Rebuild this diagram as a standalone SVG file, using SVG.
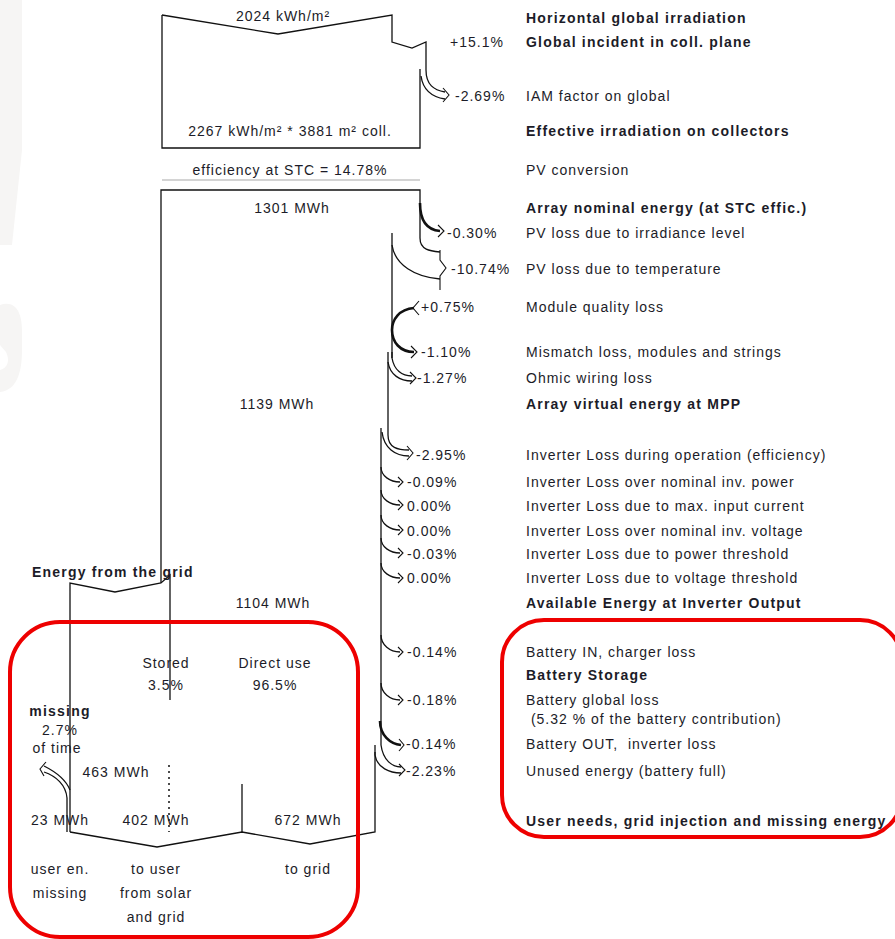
<svg xmlns="http://www.w3.org/2000/svg" width="895" height="939" viewBox="0 0 895 939">
<style>
text{font-family:"Liberation Sans",Arial,sans-serif;font-size:14px;fill:#1c1c28;letter-spacing:1px}
.b{font-weight:bold;letter-spacing:1.2px}
.m{text-anchor:middle}
.ln{fill:none;stroke:#111;stroke-width:1.3}
.tk{fill:none;stroke:#111;stroke-width:2.6}
.hd{fill:none;stroke:#111;stroke-width:1.1}
.red{fill:none;stroke:#ee0000;stroke-width:4}
</style>
<rect width="895" height="939" fill="#fff"/>
<g id="watermark" fill="#f6f5f4">
<path d="M0,0 H22 V150 L12,245 H0 Z"/>
<path d="M0,305 C15,300 22,312 22,330 V350 C22,370 18,390 0,392 V370 C8,368 10,360 6,352 L0,345 Z"/>
</g>
<g id="flows">
<!-- top irradiation box -->
<path class="ln" d="M162,15 L278,34 L392,15 V42 L412,48 L426,42 V70 C426,85 434,90 445,92"/>
<path class="ln" d="M420,69 V148 H162 V15"/>
<path class="ln" d="M421,76 C423,90 432,97 445,99"/>
<path class="hd" d="M443,88 L449,95 L443,102"/>
<line x1="162" y1="180" x2="420" y2="180" stroke="#aaa" stroke-width="1.2"/>
<!-- array box -->
<path class="ln" d="M161,583 V190 H420 V238 C420,250 430,251 440,252"/>
<path class="tk" d="M420,203 C420,222 428,230 440,231"/>
<path class="hd" d="M438,225 L444,231 L438,237"/>
<path class="ln" d="M392,233 V245 C395,265 415,277 440,279"/>
<path class="hd" d="M440,250 V260 L446,268 L440,276 V290"/>
<path class="ln" d="M392,245 V358"/>
<path class="tk" d="M414,308 C399,309 392,320 392,330 C392,342 400,352 414,352"/>
<path class="hd" d="M419,301 L413,308 L419,315"/>
<path class="hd" d="M411,346 L417,352 L411,358"/>
<path class="ln" d="M392,352 V358 C394,370 402,376 412,376"/>
<path class="ln" d="M388,352 V362 C390,375 400,381 412,381"/>
<path class="hd" d="M410,372 L416,378 L410,384"/>
<path class="ln" d="M388,362 V435 C388,448 398,450 409,450"/>
<path class="ln" d="M382,432 C384,448 395,456 409,456"/>
<path class="hd" d="M407,446 L413,453 L407,460"/>
<path class="ln" d="M381,428 V745"/>
<path class="ln" d="M381,467 C381,476 390,482 400,482"/>
<path class="ln" d="M381,490 C381,499 390,505 400,505"/>
<path class="ln" d="M381,515 C381,524 390,530 400,530"/>
<path class="ln" d="M381,538 C381,547 390,553 400,553"/>
<path class="ln" d="M381,563 C381,572 390,578 400,578"/>
<path class="hd" d="M398,477 L403,482 L398,487 M398,500 L403,505 L398,510 M398,525 L403,530 L398,535 M398,548 L403,553 L398,558 M398,573 L403,578 L398,583"/>
<path class="ln" d="M381,635 C381,645 390,652 400,652"/>
<path class="ln" d="M381,683 C381,693 390,700 400,700"/>
<path class="hd" d="M398,647 L403,652 L398,657 M398,695 L403,700 L398,705"/>
<path class="tk" d="M380,721 C380,735 390,744 401,745"/>
<path class="hd" d="M399,739 L404,745 L399,751"/>
<path class="ln" d="M381,745 C383,760 392,767 401,767"/>
<path class="ln" d="M375,745 V755 C377,768 390,773 401,773"/>
<path class="hd" d="M399,764 L405,770 L399,776"/>
<path class="ln" d="M375,752 V832 L310,844 L242,832 L157,847 L70,832"/>
<line class="ln" x1="242" y1="784" x2="242" y2="832"/>
<!-- grid input -->
<path class="ln" d="M70,832 V583 L115,592 L161,583 L170,575 V700"/>
<line x1="169" y1="765" x2="169" y2="832" stroke="#111" stroke-width="1.5" stroke-dasharray="2,4"/>
<path class="ln" d="M67,832 V798 C66,785 56,776 44,772"/>
<path class="ln" d="M70,790 C66,780 56,772 44,766"/>
<path class="hd" d="M46,762 L40,769 L44,776"/>
</g>
<g id="highlights">
<rect class="red" x="10" y="622" width="348" height="315" rx="50"/>
<rect class="red" x="502" y="620" width="400" height="217" rx="42"/>
</g>
<g id="values">
<text class="m" x="283" y="21">2024 kWh/m²</text>
<text class="m" x="290" y="136">2267 kWh/m² * 3881 m² coll.</text>
<text class="m" x="290" y="175">efficiency at STC = 14.78%</text>
<text class="m" x="292" y="213">1301 MWh</text>
<text class="m" x="277" y="409">1139 MWh</text>
<text class="m" x="273" y="608">1104 MWh</text>
<text x="450" y="47">+15.1%</text>
<text x="455" y="101">-2.69%</text>
<text x="447" y="238">-0.30%</text>
<text x="451" y="274">-10.74%</text>
<text x="421" y="312">+0.75%</text>
<text x="421" y="357">-1.10%</text>
<text x="417" y="383">-1.27%</text>
<text x="416" y="460">-2.95%</text>
<text x="407" y="487">-0.09%</text>
<text x="407" y="511">0.00%</text>
<text x="407" y="536">0.00%</text>
<text x="407" y="559">-0.03%</text>
<text x="407" y="583">0.00%</text>
<text x="407" y="657">-0.14%</text>
<text x="407" y="705">-0.18%</text>
<text x="406" y="749">-0.14%</text>
<text x="406" y="776">-2.23%</text>
</g>
<g id="bottom-labels">
<text class="b" x="32" y="577">Energy from the grid</text>
<text class="m" x="166" y="668">Stored</text>
<text class="m" x="166" y="690">3.5%</text>
<text class="m" x="275" y="668">Direct use</text>
<text class="m" x="275" y="690">96.5%</text>
<text class="b m" x="60" y="716">missing</text>
<text class="m" x="60" y="735">2.7%</text>
<text class="m" x="57" y="753">of time</text>
<text class="m" x="116" y="777">463 MWh</text>
<text class="m" x="60" y="825">23 MWh</text>
<text class="m" x="156" y="825">402 MWh</text>
<text class="m" x="308" y="825">672 MWh</text>
<text class="m" x="60" y="874">user en.</text>
<text class="m" x="60" y="898">missing</text>
<text class="m" x="156" y="874">to user</text>
<text class="m" x="156" y="898">from solar</text>
<text class="m" x="156" y="922">and grid</text>
<text class="m" x="308" y="874">to grid</text>
</g>
<g id="legend">
<text class="b" x="526" y="23">Horizontal global irradiation</text>
<text class="b" x="526" y="47">Global incident in coll. plane</text>
<text x="526" y="101">IAM factor on global</text>
<text class="b" x="526" y="136">Effective irradiation on collectors</text>
<text x="526" y="175">PV conversion</text>
<text class="b" x="526" y="213">Array nominal energy (at STC effic.)</text>
<text x="526" y="238">PV loss due to irradiance level</text>
<text x="526" y="274">PV loss due to temperature</text>
<text x="526" y="312">Module quality loss</text>
<text x="526" y="357">Mismatch loss, modules and strings</text>
<text x="526" y="383">Ohmic wiring loss</text>
<text class="b" x="526" y="409">Array virtual energy at MPP</text>
<text x="526" y="460">Inverter Loss during operation (efficiency)</text>
<text x="526" y="487">Inverter Loss over nominal inv. power</text>
<text x="526" y="511">Inverter Loss due to max. input current</text>
<text x="526" y="536">Inverter Loss over nominal inv. voltage</text>
<text x="526" y="559">Inverter Loss due to power threshold</text>
<text x="526" y="583">Inverter Loss due to voltage threshold</text>
<text class="b" x="526" y="608">Available Energy at Inverter Output</text>
<text x="526" y="657">Battery IN, charger loss</text>
<text class="b" x="526" y="680">Battery Storage</text>
<text x="526" y="705">Battery global loss</text>
<text x="526" y="724" xml:space="preserve"> (5.32 % of the battery contribution)</text>
<text x="526" y="749" xml:space="preserve">Battery OUT,  inverter loss</text>
<text x="526" y="776">Unused energy (battery full)</text>
<text class="b" x="526" y="826">User needs, grid injection and missing energy</text>
</g>
</svg>
